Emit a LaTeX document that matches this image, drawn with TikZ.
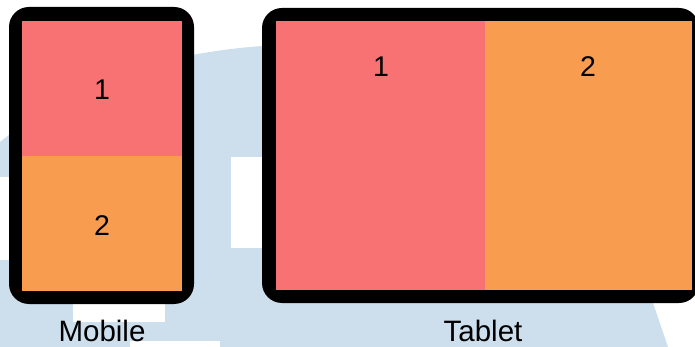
\documentclass[tikz,border=0pt]{standalone}
\usepackage{fontspec}
\setmainfont{Liberation Sans}
\definecolor{markblue}{RGB}{205,222,237}
\definecolor{paneRed}{RGB}{248,113,115}
\definecolor{paneOrange}{RGB}{248,157,80}
\tikzset{
  frame/.style={fill=black, rounded corners=20pt},
  digit/.style={font=\fontsize{28.5}{30}\selectfont, anchor=base, inner sep=0pt},
  caption/.style={font=\fontsize{29.5}{31}\selectfont, anchor=base, inner sep=0pt},
  cutout/.style={fill=white, draw=none}
}
\begin{document}
\begin{tikzpicture}[x=1pt, y=-1pt]
  \useasboundingbox (0,0) rectangle (695,347);
  \clip (0,0) rectangle (695,347);

  % faint background emblem
  \fill[markblue] (0,350) -- (0,142) .. controls (55,98) and (130,56) .. (262,46)
        -- (565,44) -- (669,350) -- cycle;
  \fill[cutout] (231,157) rectangle (268,248);
  \fill[cutout] (-2,177) rectangle (20,260);
  \fill[cutout] (73,290) rectangle (165,322);
  \fill[cutout] (130,341) rectangle (220,350);

  % mobile device
  \fill[frame] (9,7) rectangle (194,304);
  \fill[paneRed]    (22,21)  rectangle (182,156);
  \fill[paneOrange] (22,156) rectangle (182,291);
  \node[digit] (m1) at (102,100) {1};
  \node[digit] (m2) at (102,235) {2};
  \node[caption] (mobile) at (102,341) {Mobile};

  % tablet device
  \fill[frame] (262,8) rectangle (699,303);
  \fill[paneRed]    (276,21) rectangle (485,290);
  \fill[paneOrange] (485,21) rectangle (692,290);
  \node[digit] (t1) at (381,77) {1};
  \node[digit] (t2) at (588,77) {2};
  \node[caption] (tablet) at (483,341) {Tablet};
\end{tikzpicture}
\end{document}
